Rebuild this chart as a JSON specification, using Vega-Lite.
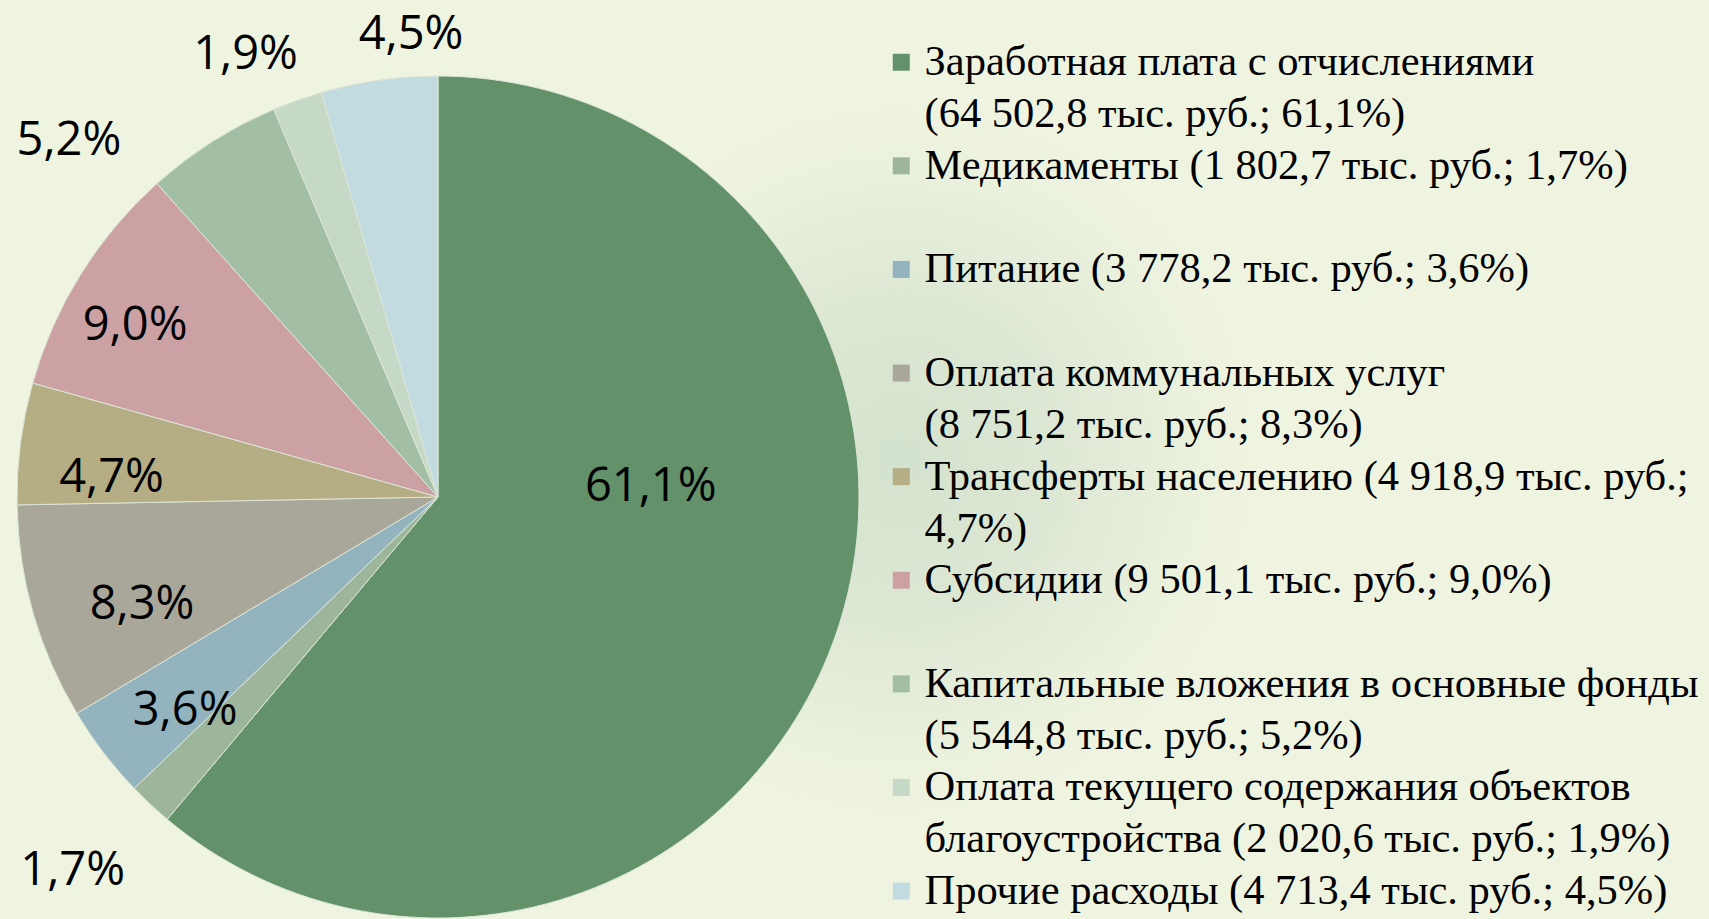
{
  "$schema": "https://vega.github.io/schema/vega-lite/v6.json",
  "width": 876,
  "height": 842,
  "autosize": "none",
  "padding": {"left": 0, "top": 76, "right": 833, "bottom": 1},
  "background": "#E6EED9",
  "config": {
    "view": {"stroke": null},
    "style": {"guide-label": {"lineHeight": 52}}
  },
  "data": {
    "values": [
      {"n": 1, "cat": "Заработная  плата  с отчислениями|(64 502,8 тыс. руб.; 61,1%)", "value": 64502.8, "pct": "61,1%"},
      {"n": 2, "cat": "Медикаменты (1 802,7 тыс. руб.; 1,7%)|", "value": 1802.7, "pct": "1,7%"},
      {"n": 3, "cat": "Питание (3 778,2 тыс. руб.; 3,6%)|", "value": 3778.2, "pct": "3,6%"},
      {"n": 4, "cat": "Оплата коммунальных услуг|(8 751,2 тыс. руб.; 8,3%)", "value": 8751.2, "pct": "8,3%"},
      {"n": 5, "cat": "Трансферты населению (4 918,9 тыс. руб.;|4,7%)", "value": 4918.9, "pct": "4,7%"},
      {"n": 6, "cat": "Субсидии (9 501,1 тыс. руб.; 9,0%)|", "value": 9501.1, "pct": "9,0%"},
      {"n": 7, "cat": "Капитальные вложения в основные фонды|(5 544,8 тыс. руб.; 5,2%)", "value": 5544.8, "pct": "5,2%"},
      {"n": 8, "cat": "Оплата текущего содержания объектов|благоустройства (2 020,6 тыс. руб.; 1,9%)", "value": 2020.6, "pct": "1,9%"},
      {"n": 9, "cat": "Прочие расходы  (4 713,4  тыс. руб.; 4,5%)", "value": 4713.4, "pct": "4,5%"}
    ]
  },
  "layer": [
    {
      "data": {"values": [{"bg": 1}]},
      "mark": {
        "type": "arc",
        "radius": 1400,
        "theta": 0,
        "theta2": 6.2832,
        "fill": {
          "gradient": "radial",
          "x1": 0.665, "y1": 0.487, "r1": 0,
          "x2": 0.665, "y2": 0.487, "r2": 0.36,
          "stops": [
            {"offset": 0, "color": "#D3E2CE"},
            {"offset": 0.16, "color": "#DDE8D4"},
            {"offset": 0.29, "color": "#EAF1DD"},
            {"offset": 0.36, "color": "#EFF4E0"},
            {"offset": 1, "color": "#EFF4E0"}
          ]
        }
      },
      "encoding": {}
    },
    {
      "encoding": {
        "theta": {"field": "value", "type": "quantitative", "stack": true},
        "order": {"field": "n", "type": "quantitative"}
      },
      "layer": [
        {
          "mark": {"type": "arc", "radius": 421, "stroke": "#DCE5D6", "strokeWidth": 1},
          "encoding": {
            "color": {
              "field": "cat",
              "type": "nominal",
              "sort": null,
              "scale": {"range": ["#63926A", "#9DB69B", "#93B4BF", "#A9A79A", "#B5AE84", "#CCA1A3", "#A2BFA5", "#C5D9C6", "#C2DBE1"]},
              "legend": {
                "title": null,
                "orient": "none",
                "legendX": 880,
                "legendY": -35,
                "symbolType": "square",
                "symbolSize": 289,
                "symbolStrokeWidth": 0,
                "labelFont": "Liberation Serif",
                "labelFontSize": 42.5,
                "labelColor": "#000000",
                "labelLimit": 900,
                "labelOffset": 2,
                "rowPadding": 8.6,
                "labelExpr": "split(datum.label, '|')"
              }
            }
          }
        },
        {
          "mark": {"type": "text", "font": "Open Sans", "fontSize": 47, "color": "#000000", "thetaOffset": -0.396, "radius": 213},
          "encoding": {"text": {"condition": {"test": "datum.n == 1", "field": "pct"}, "value": ""}}
        },
        {
          "mark": {"type": "text", "font": "Open Sans", "fontSize": 47, "color": "#000000", "thetaOffset": 0.021, "radius": 523},
          "encoding": {"text": {"condition": {"test": "datum.n == 2", "field": "pct"}, "value": ""}}
        },
        {
          "mark": {"type": "text", "font": "Open Sans", "fontSize": 47, "color": "#000000", "thetaOffset": -0.049, "radius": 331},
          "encoding": {"text": {"condition": {"test": "datum.n == 3", "field": "pct"}, "value": ""}}
        },
        {
          "mark": {"type": "text", "font": "Open Sans", "fontSize": 47, "color": "#000000", "thetaOffset": -0.07, "radius": 315},
          "encoding": {"text": {"condition": {"test": "datum.n == 4", "field": "pct"}, "value": ""}}
        },
        {
          "mark": {"type": "text", "font": "Open Sans", "fontSize": 47, "color": "#000000", "thetaOffset": -0.07, "radius": 327},
          "encoding": {"text": {"condition": {"test": "datum.n == 5", "field": "pct"}, "value": ""}}
        },
        {
          "mark": {"type": "text", "font": "Open Sans", "fontSize": 47, "color": "#000000", "thetaOffset": -0.042, "radius": 348},
          "encoding": {"text": {"condition": {"test": "datum.n == 6", "field": "pct"}, "value": ""}}
        },
        {
          "mark": {"type": "text", "font": "Open Sans", "fontSize": 47, "color": "#000000", "thetaOffset": -0.237, "radius": 513},
          "encoding": {"text": {"condition": {"test": "datum.n == 7", "field": "pct"}, "value": ""}}
        },
        {
          "mark": {"type": "text", "font": "Open Sans", "fontSize": 47, "color": "#000000", "thetaOffset": -0.07, "radius": 482},
          "encoding": {"text": {"condition": {"test": "datum.n == 8", "field": "pct"}, "value": ""}}
        },
        {
          "mark": {"type": "text", "font": "Open Sans", "fontSize": 47, "color": "#000000", "thetaOffset": 0.082, "radius": 463},
          "encoding": {"text": {"condition": {"test": "datum.n == 9", "field": "pct"}, "value": ""}}
        }
      ]
    }
  ]
}
